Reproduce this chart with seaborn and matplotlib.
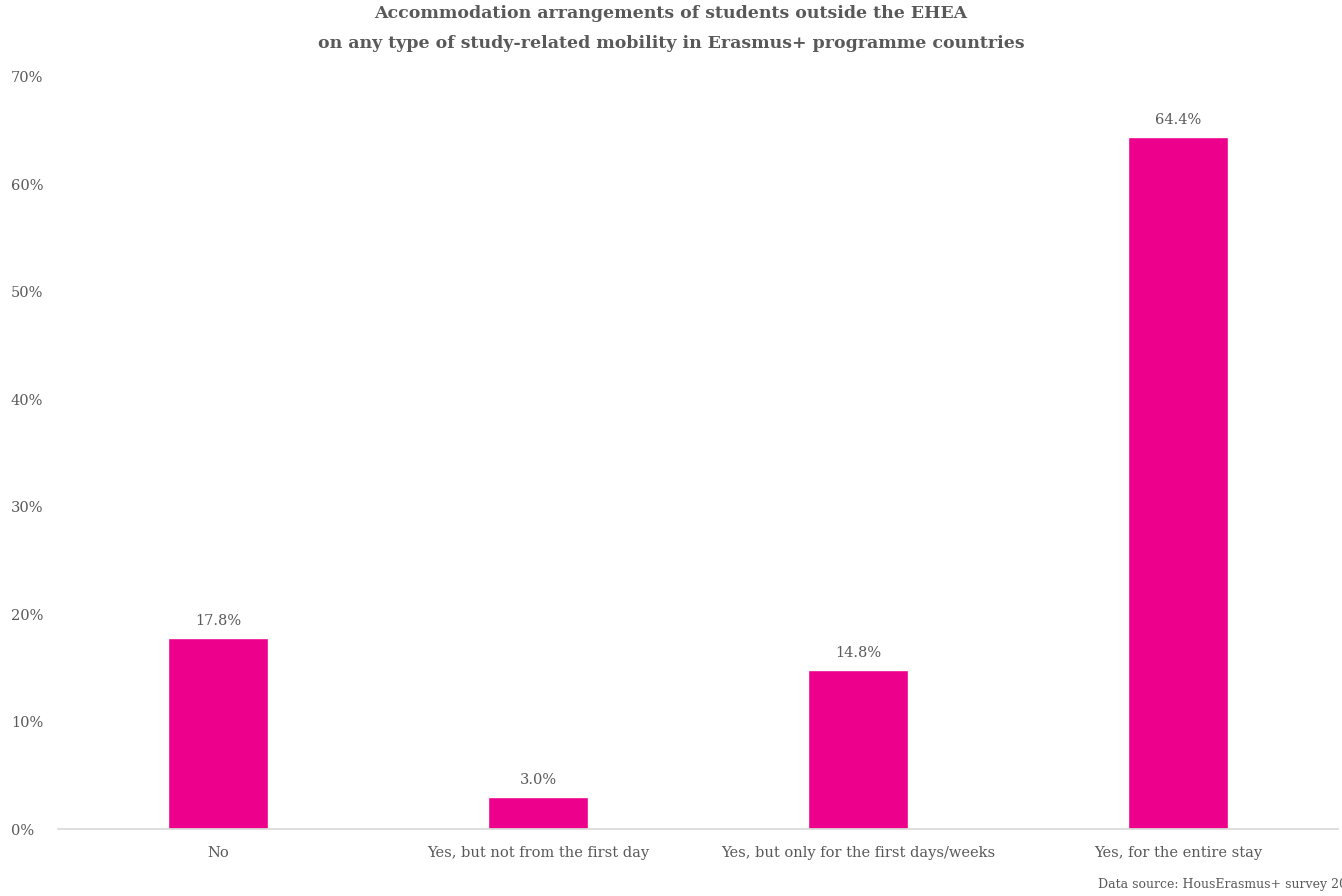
import pandas as pd
import matplotlib.pyplot as plt
import seaborn as sns

# --- data ---
categories = ["No", "Yes, but not from the first day",
              "Yes, but only for the first days/weeks", "Yes, for the entire stay"]
shares = [17.8, 3.0, 14.8, 64.4]
yticks = [0, 10, 20, 30, 40, 50, 60, 70]

BAR_COLOR = "#EC008C"
TEXT_COLOR = "#595959"

sns.set_theme(style="white")
plt.rcParams["font.family"] = ["DejaVu Serif"]

df = pd.DataFrame({"category": categories, "share": shares})

fig = plt.figure(figsize=(13.42, 8.96), dpi=100)
ax = fig.add_axes([58 / 1342, 1 - 829 / 896, 1280 / 1342, (829 - 77) / 896])

sns.barplot(data=df, x="category", y="share", color=BAR_COLOR, width=0.31,
            saturation=1, ax=ax)

for p, v in zip(ax.patches, shares):
    ax.annotate(f"{v:.1f}%", (p.get_x() + p.get_width() / 2, p.get_height()),
                textcoords="offset points", xytext=(0, 7), ha="center", va="bottom",
                fontsize=10.5, color=TEXT_COLOR)

ax.set_ylim(0, 70)
ax.set_xlim(-0.5, 3.5)
ax.set_yticks(yticks)
ax.set_yticklabels([f"{t}%" for t in yticks])
ax.set_xlabel("")
ax.set_ylabel("")
for s in ["top", "right", "left"]:
    ax.spines[s].set_visible(False)
ax.spines["bottom"].set_color("#D9D9D9")
ax.tick_params(axis="y", length=0, pad=34, labelsize=10.5, labelcolor=TEXT_COLOR)
for lab in ax.get_yticklabels():
    lab.set_ha("left")
ax.tick_params(axis="x", length=0, pad=12, labelsize=10.5, labelcolor=TEXT_COLOR)

# title (two lines, like the original)
fig.text(0.5, 1 - 14 / 896, "Accommodation arrangements of students outside the EHEA",
         ha="center", va="center", fontsize=12.5, fontweight="bold", color=TEXT_COLOR)
fig.text(0.5, 1 - 43 / 896,
         "on any type of study-related mobility in Erasmus+ programme countries",
         ha="center", va="center", fontsize=12.5, fontweight="bold", color=TEXT_COLOR)

# source note, runs off the right edge as in the original
fig.text(1098 / 1342, 1 - 884 / 896, "Data source: HousErasmus+ survey 2017",
         ha="left", va="center", fontsize=9, color=TEXT_COLOR)

fig.savefig("out.png", dpi=100)
